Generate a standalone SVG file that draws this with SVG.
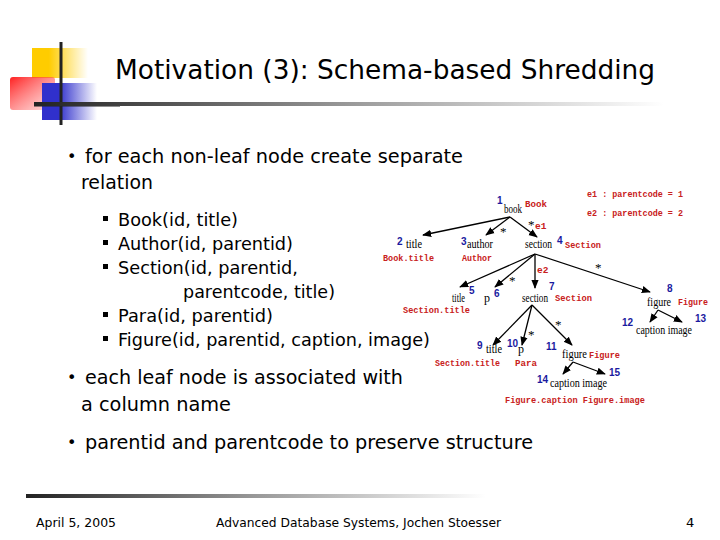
<svg xmlns="http://www.w3.org/2000/svg" width="720" height="540" viewBox="0 0 720 540">
<defs>
<linearGradient id="rule" x1="0" x2="1" y1="0" y2="0"><stop offset="0" stop-color="#222"/><stop offset="0.5" stop-color="#999"/><stop offset="1" stop-color="#fff"/></linearGradient>
<linearGradient id="yel" x1="0" x2="1"><stop offset="0.3" stop-color="#ffcc00"/><stop offset="1" stop-color="#ffcc00" stop-opacity="0"/></linearGradient>
<linearGradient id="red" x1="0" x2="1" y1="0" y2="1"><stop offset="0" stop-color="#ff2020"/><stop offset="1" stop-color="#ff9090" stop-opacity="0.3"/></linearGradient>
<linearGradient id="blu" x1="0" x2="1"><stop offset="0.3" stop-color="#3030cc"/><stop offset="1" stop-color="#3030cc" stop-opacity="0"/></linearGradient>
<marker id="ah" viewBox="0 0 10 10" refX="9" refY="5" markerWidth="7" markerHeight="7" orient="auto"><path d="M0,1 L10,5 L0,9 z" fill="#000"/></marker>
<style>
.t{font-family:"DejaVu Sans",Tahoma,sans-serif;fill:#000}
.b{font-size:20px}
.s{font-size:18px}
.f{font-size:13px;font-family:"DejaVu Sans",sans-serif}
.n{font-family:"Liberation Serif",serif;font-size:12px;fill:#000}
.st{font-family:"Liberation Serif",serif;font-size:13px;fill:#000}
.num{font-family:"Liberation Sans",sans-serif;font-size:10px;font-weight:bold;fill:#1a1aa0}
.r{font-family:"Liberation Mono",monospace;font-size:9.5px;font-weight:bold;fill:#c82020}
.e{stroke:#000;stroke-width:1.3;fill:none;marker-end:url(#ah)}
</style>
</defs>
<rect width="720" height="540" fill="#fff"/>
<g id="logo">
<rect x="32" y="48" width="56" height="30" fill="url(#yel)"/>
<rect x="10" y="77" width="45" height="33" rx="3" fill="url(#red)"/>
<rect x="42" y="83" width="55" height="37" fill="url(#blu)"/>
<line x1="61" y1="42" x2="61" y2="125" stroke="#222" stroke-width="3"/>
<line x1="34" y1="105" x2="120" y2="105" stroke="#222" stroke-width="3"/>
</g>
<rect x="34" y="102" width="630" height="4" fill="url(#rule)"/>
<text class="t" x="115" y="79" font-size="26" textLength="540" lengthAdjust="spacingAndGlyphs">Motivation (3): Schema-based Shredding</text>
<g id="text">
<text class="t" x="67" y="162" font-size="16">•</text>
<text class="t b" x="85" y="163" textLength="378" lengthAdjust="spacingAndGlyphs">for each non-leaf node create separate</text>
<text class="t b" x="81" y="189" textLength="72" lengthAdjust="spacingAndGlyphs">relation</text>
<g class="t s">
<rect x="103" y="216" width="5" height="5"/><text x="118" y="226" textLength="120" lengthAdjust="spacingAndGlyphs">Book(id, title)</text>
<rect x="103" y="240" width="5" height="5"/><text x="118" y="250" textLength="175" lengthAdjust="spacingAndGlyphs">Author(id, parentid)</text>
<rect x="103" y="264" width="5" height="5"/><text x="118" y="274" textLength="180" lengthAdjust="spacingAndGlyphs">Section(id, parentid,</text>
<text x="183" y="298" textLength="152" lengthAdjust="spacingAndGlyphs">parentcode, title)</text>
<rect x="103" y="312" width="5" height="5"/><text x="118" y="322" textLength="155" lengthAdjust="spacingAndGlyphs">Para(id, parentid)</text>
<rect x="103" y="336" width="5" height="5"/><text x="118" y="346" textLength="312" lengthAdjust="spacingAndGlyphs">Figure(id, parentid, caption, image)</text>
</g>
<text class="t" x="67" y="383" font-size="16">•</text>
<text class="t b" x="85" y="384" textLength="318" lengthAdjust="spacingAndGlyphs">each leaf node is associated with</text>
<text class="t b" x="81" y="411" textLength="150" lengthAdjust="spacingAndGlyphs">a column name</text>
<text class="t" x="67" y="448" font-size="16">•</text>
<text class="t b" x="85" y="449" textLength="448" lengthAdjust="spacingAndGlyphs">parentid and parentcode to preserve structure</text>
</g>
<g id="connectors">
<line class="e" x1="510" y1="217" x2="423" y2="235"/>
<line class="e" x1="510" y1="217" x2="486" y2="235"/>
<line class="e" x1="510" y1="217" x2="537" y2="237"/>
<line class="e" x1="535" y1="254" x2="460" y2="287"/>
<line class="e" x1="535" y1="254" x2="495" y2="287"/>
<line class="e" x1="535" y1="254" x2="535" y2="288"/>
<line class="e" x1="535" y1="254" x2="650" y2="292"/>
<line class="e" x1="658" y1="310" x2="650" y2="322"/>
<line class="e" x1="658" y1="310" x2="682" y2="322"/>
<line class="e" x1="532" y1="305" x2="493" y2="345"/>
<line class="e" x1="532" y1="305" x2="522" y2="345"/>
<line class="e" x1="532" y1="305" x2="572" y2="345"/>
<line class="e" x1="573" y1="362" x2="563" y2="374"/>
<line class="e" x1="573" y1="362" x2="605" y2="374"/>
</g>
<g id="edge-labels">
<text class="st" x="500" y="236">*</text>
<text class="st" x="528" y="229">*</text><text class="r" x="535" y="229">e1</text>
<text class="st" x="509" y="285">*</text>
<text class="r" x="537" y="273">e2</text>
<text class="st" x="595" y="272">*</text>
<text class="st" x="528" y="339">*</text>
<text class="st" x="555" y="329">*</text>
<text class="r" x="587" y="197" textLength="96" lengthAdjust="spacingAndGlyphs">e1 : parentcode = 1</text>
<text class="r" x="587" y="216" textLength="96" lengthAdjust="spacingAndGlyphs">e2 : parentcode = 2</text>
</g>
<g id="n1"><text class="num" x="497" y="204">1</text><text class="n" x="504" y="213" textLength="18" lengthAdjust="spacingAndGlyphs">book</text><text class="r" x="525" y="207" textLength="22" lengthAdjust="spacingAndGlyphs">Book</text></g>
<g id="n2"><text class="num" x="397" y="245">2</text><text class="n" x="406" y="248" textLength="16" lengthAdjust="spacingAndGlyphs">title</text><text class="r" x="383" y="261" textLength="51" lengthAdjust="spacingAndGlyphs">Book.title</text></g>
<g id="n3"><text class="num" x="461" y="245">3</text><text class="n" x="467" y="248" textLength="26" lengthAdjust="spacingAndGlyphs">author</text><text class="r" x="462" y="261" textLength="30" lengthAdjust="spacingAndGlyphs">Author</text></g>
<g id="n4"><text class="n" x="525" y="248" textLength="27" lengthAdjust="spacingAndGlyphs">section</text><text class="num" x="557" y="244">4</text><text class="r" x="565" y="248" textLength="36" lengthAdjust="spacingAndGlyphs">Section</text></g>
<g id="n5"><text class="n" x="452" y="302" textLength="13" lengthAdjust="spacingAndGlyphs">title</text><text class="num" x="469" y="294">5</text><text class="r" x="403" y="313" textLength="67" lengthAdjust="spacingAndGlyphs">Section.title</text></g>
<g id="n6"><text class="n" x="484" y="302">p</text><text class="num" x="494" y="297">6</text></g>
<g id="n7"><text class="n" x="522" y="302" textLength="26" lengthAdjust="spacingAndGlyphs">section</text><text class="num" x="549" y="290">7</text><text class="r" x="555" y="301" textLength="37" lengthAdjust="spacingAndGlyphs">Section</text></g>
<g id="n8"><text class="num" x="667" y="292">8</text><text class="n" x="647" y="306" textLength="24" lengthAdjust="spacingAndGlyphs">figure</text><text class="r" x="678" y="305" textLength="30" lengthAdjust="spacingAndGlyphs">Figure</text></g>
<g id="n12"><text class="num" x="622" y="326">12</text></g>
<g id="n12-13-labels"><text class="n" x="636" y="334" textLength="56" lengthAdjust="spacingAndGlyphs">caption image</text></g>
<g id="n13"><text class="num" x="695" y="322">13</text></g>
<g id="n9"><text class="num" x="477" y="349">9</text><text class="n" x="486" y="353" textLength="16" lengthAdjust="spacingAndGlyphs">title</text><text class="r" x="435" y="366" textLength="65" lengthAdjust="spacingAndGlyphs">Section.title</text></g>
<g id="n10"><text class="num" x="507" y="347">10</text><text class="n" x="518" y="353">p</text><text class="r" x="515" y="366" textLength="22" lengthAdjust="spacingAndGlyphs">Para</text></g>
<g id="n11"><text class="num" x="546" y="350">11</text><text class="n" x="562" y="358" textLength="25" lengthAdjust="spacingAndGlyphs">figure</text><text class="r" x="589" y="358" textLength="31" lengthAdjust="spacingAndGlyphs">Figure</text></g>
<g id="n14"><text class="num" x="537" y="383">14</text></g>
<g id="n14-15-labels"><text class="n" x="550" y="387" textLength="57" lengthAdjust="spacingAndGlyphs">caption image</text><text class="r" x="505" y="403" textLength="140" lengthAdjust="spacingAndGlyphs">Figure.caption Figure.image</text></g>
<g id="n15"><text class="num" x="609" y="376">15</text></g>
<rect x="26" y="494" width="460" height="4" fill="url(#rule)"/>
<g id="footer">
<text class="t f" x="36" y="527" textLength="80" lengthAdjust="spacingAndGlyphs">April 5, 2005</text>
<text class="t f" x="216" y="527" textLength="285" lengthAdjust="spacingAndGlyphs">Advanced Database Systems, Jochen Stoesser</text>
<text class="t f" x="686" y="527">4</text>
</g>
</svg>
